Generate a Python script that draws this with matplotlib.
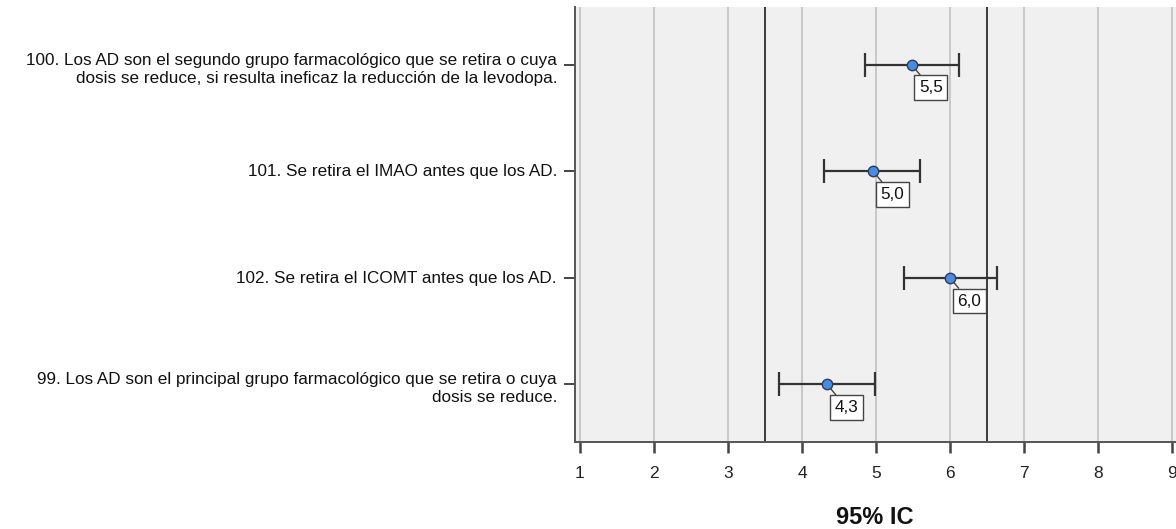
import matplotlib
matplotlib.use("Agg")
import matplotlib.pyplot as plt
import matplotlib.transforms as mtransforms

# ---- data (top to bottom as displayed) ----
label_lines = [
    ["100. Los AD son el segundo grupo farmacológico que se retira o cuya",
     "dosis se reduce, si resulta ineficaz la reducción de la levodopa."],
    ["101. Se retira el IMAO antes que los AD."],
    ["102. Se retira el ICOMT antes que los AD."],
    ["99. Los AD son el principal grupo farmacológico que se retira o cuya",
     "dosis se reduce."],
]
means = [5.48, 4.96, 6.00, 4.34]
lower = [4.85, 4.30, 5.38, 3.69]
upper = [6.12, 5.60, 6.63, 4.98]
value_labels = ["5,5", "5,0", "6,0", "4,3"]
xticks = [1, 2, 3, 4, 5, 6, 7, 8, 9]
ref_lines = [3.5, 6.5]
xlabel = "95% IC"

plt.rcParams["font.family"] = ["Liberation Sans", "DejaVu Sans"]

W, H = 1176, 529
fig = plt.figure(figsize=(W / 100, H / 100), dpi=100)
ax_l, ax_r, ax_t, ax_b = 575, 1176, 7, 442
ax = fig.add_axes([ax_l / W, (H - ax_b) / H, (ax_r - ax_l) / W, (ax_b - ax_t) / H])
ax.set_facecolor("#f0f0f0")

n = len(means)
ys = [n - 1 - i for i in range(n)]

ax.set_xlim(1 - 5 / 74, 1 + (ax_r - 580) / 74)
ax.set_ylim(-0.54, n - 1 + 0.54)

for xv in xticks:
    ax.axvline(xv, color="#c8c8c8", lw=1.4, zorder=1)
for xv in ref_lines:
    ax.axvline(xv, color="#3a3a3a", lw=1.4, zorder=2)

ax.errorbar(means, ys, xerr=[[m - lo for m, lo in zip(means, lower)],
                             [hi - m for m, hi in zip(means, upper)]],
            fmt="none", ecolor="#333333", elinewidth=1.6, capsize=8.5,
            capthick=1.6, zorder=3)
ax.plot(means, ys, "o", ms=7.5, mfc="#4a8ae0", mec="#2d3e55", mew=1.0,
        zorder=6)

for m, y, v in zip(means, ys, value_labels):
    ax.annotate(v, xy=(m, y), xytext=(5.3, -11.3), textcoords="offset points",
                ha="left", va="top", fontsize=12.3, color="#111111",
                bbox=dict(boxstyle="square,pad=0.28", fc="white",
                          ec="#444444", lw=1.0),
                arrowprops=dict(arrowstyle="-", color="#444444", lw=1.0,
                                shrinkA=0, shrinkB=0),
                zorder=5)

# y tick labels (manual)
trans = mtransforms.blended_transform_factory(ax.transAxes, ax.transData)
px = 0.72
for y, lines in zip(ys, label_lines):
    if len(lines) == 1:
        ax.annotate(lines[0], xy=(0, y), xycoords=trans,
                    xytext=(-18 * px, -5 * px),
                    textcoords="offset points", ha="right", va="baseline",
                    fontsize=12.3, color="#111111", annotation_clip=False)
    else:
        for k, line in enumerate(lines):
            ax.annotate(line, xy=(0, y), xycoords=trans,
                        xytext=(-18 * px, (0 - 18 * k) * px),
                        textcoords="offset points", ha="right", va="baseline",
                        fontsize=12.3, color="#111111", annotation_clip=False)

ax.set_yticks(ys)
ax.set_yticklabels([])
ax.set_xticks(xticks)
ax.set_xticklabels([str(x) for x in xticks], fontsize=12.5, color="#222222")
ax.tick_params(axis="x", length=8, width=1.8, color="#444444", pad=9)
ax.tick_params(axis="y", length=8, width=1.4, color="#444444")

for s in ["top", "right"]:
    ax.spines[s].set_visible(False)
for s in ["left", "bottom"]:
    ax.spines[s].set_color("#555555")
    ax.spines[s].set_linewidth(1.4)

fig.text(875 / W, 1 - 517 / H, xlabel, ha="center", va="center",
         fontsize=17, fontweight="bold", color="#111111")

fig.savefig("out.png", dpi=100)
